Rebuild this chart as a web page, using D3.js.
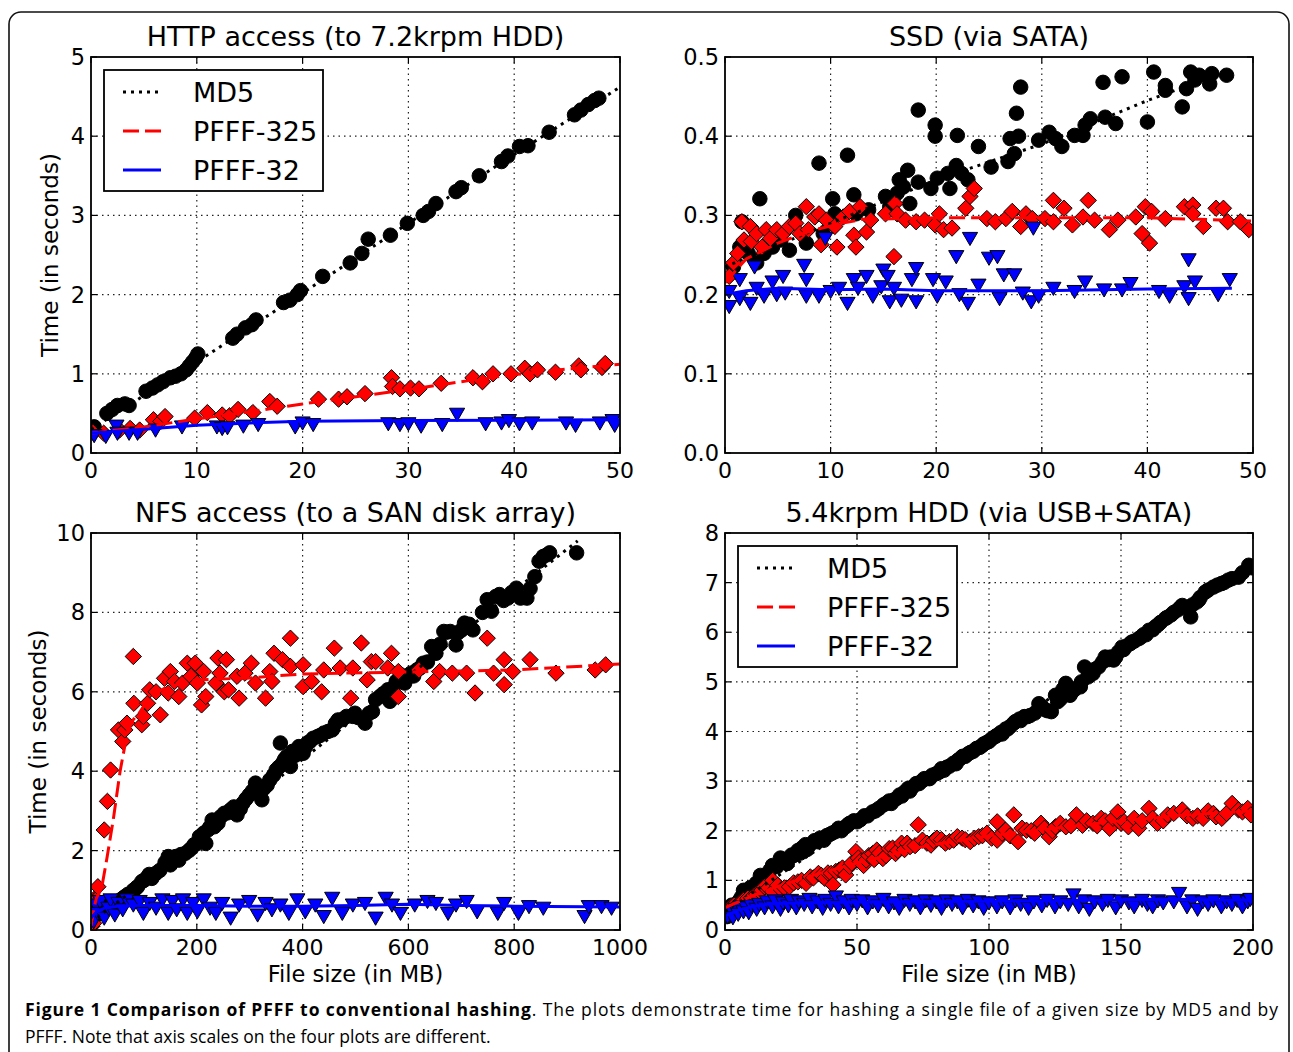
<!DOCTYPE html>
<html>
<head>
<meta charset="utf-8">
<script src="https://cdn.jsdelivr.net/npm/d3@7"></script>
<style>
body { margin: 0; background: #fff; }
svg text { font-family: "DejaVu Sans", "Bitstream Vera Sans", sans-serif; fill: #000; }
</style>
</head>
<body>
<svg width="1293" height="1052"></svg>
<script>
var seriesNames = ["MD5", "PFFF-325", "PFFF-32"];

// HTTP access (to 7.2krpm HDD)
var httpXTicks = [0, 10, 20, 30, 40, 50];
var httpYTicks = [0, 1, 2, 3, 4, 5];
var httpMd5 = [[0.3,0.33],[1.5,0.5],[2.0,0.55],[2.5,0.6],[3.2,0.62],[3.6,0.6],[5.2,0.78],[5.8,0.82],[6.3,0.86],[6.8,0.9],[7.5,0.95],[8.0,0.97],[8.5,1.0],[9.0,1.05],[9.3,1.1],[9.6,1.15],[9.9,1.2],[10.1,1.25],[13.4,1.45],[13.8,1.5],[14.6,1.58],[15.2,1.62],[15.6,1.68],[18.2,1.9],[18.8,1.93],[19.5,2.0],[19.8,2.05],[21.9,2.23],[24.5,2.4],[25.6,2.52],[26.2,2.7],[28.3,2.75],[29.9,2.9],[31.4,3.0],[31.9,3.05],[32.6,3.15],[34.5,3.3],[35.0,3.35],[36.7,3.5],[38.8,3.68],[39.4,3.75],[40.5,3.87],[41.3,3.88],[43.3,4.05],[45.7,4.27],[46.3,4.33],[47.0,4.4],[47.6,4.45],[48.0,4.48]];
var httpPfff325 = [[0.2,0.26],[1.2,0.25],[2.7,0.29],[3.7,0.31],[4.6,0.29],[5.9,0.42],[6.6,0.4],[7.0,0.46],[9.8,0.44],[11.0,0.51],[12.4,0.48],[13.1,0.47],[13.9,0.55],[15.3,0.51],[16.9,0.65],[17.6,0.59],[21.5,0.68],[23.4,0.68],[24.2,0.71],[25.9,0.75],[28.4,0.95],[28.5,0.84],[29.2,0.81],[30.2,0.82],[31.0,0.81],[33.1,0.88],[36.1,0.95],[37.0,0.9],[38.0,1.0],[39.7,1.0],[41.0,1.07],[41.5,1.0],[42.2,1.05],[43.9,1.02],[46.1,1.1],[46.3,1.05],[48.3,1.08],[48.6,1.13]];
var httpPfff32 = [[0.3,0.24],[1.4,0.23],[2.4,0.36],[2.5,0.27],[3.6,0.27],[4.4,0.27],[6.1,0.31],[8.6,0.35],[11.9,0.35],[12.4,0.33],[12.9,0.34],[14.4,0.36],[15.8,0.38],[19.3,0.35],[20.0,0.4],[21.0,0.38],[28.1,0.39],[29.2,0.38],[30.0,0.39],[31.2,0.36],[33.2,0.38],[34.6,0.51],[37.3,0.39],[38.8,0.4],[39.5,0.43],[40.5,0.39],[41.7,0.4],[44.9,0.4],[45.8,0.37],[48.1,0.4],[49.3,0.43],[49.5,0.37]];
var httpMd5Fit = [[0,0.3],[10,1.15],[20,2.02],[30,2.9],[40,3.77],[50,4.62]];
var httpPfff325Fit = [[0,0.25],[5,0.33],[10,0.43],[15,0.52],[20,0.62],[30,0.8],[36,0.92],[40,0.99],[45,1.06],[50,1.12]];
var httpPfff32Fit = [[0,0.25],[5,0.3],[10,0.35],[15,0.38],[20,0.4],[30,0.41],[40,0.415],[50,0.42]];

// SSD (via SATA)
var ssdXTicks = [0, 10, 20, 30, 40, 50];
var ssdYTicks = [0, 0.1, 0.2, 0.3, 0.4, 0.5];
var ssdMd5 = [[0.8,0.235],[1.4,0.26],[1.6,0.292],[2.2,0.252],[3.0,0.24],[3.3,0.321],[3.7,0.252],[4.5,0.26],[5.3,0.269],[6.1,0.256],[6.7,0.3],[7.7,0.265],[8.9,0.366],[9.3,0.277],[10.2,0.321],[10.4,0.302],[11.6,0.376],[12.2,0.326],[12.4,0.302],[13.6,0.307],[15.2,0.324],[15.6,0.311],[16.3,0.328],[16.5,0.345],[16.9,0.336],[17.3,0.357],[17.5,0.315],[18.3,0.433],[18.3,0.342],[19.5,0.334],[19.9,0.4],[19.9,0.414],[20.1,0.347],[21.1,0.353],[21.3,0.334],[21.9,0.363],[22.0,0.401],[22.4,0.353],[23.0,0.345],[24.0,0.387],[25.2,0.361],[26.8,0.368],[27.0,0.397],[27.4,0.378],[27.6,0.429],[27.8,0.4],[28.0,0.462],[29.7,0.395],[30.7,0.405],[31.3,0.397],[31.9,0.387],[33.1,0.401],[33.9,0.401],[34.1,0.414],[34.6,0.422],[35.8,0.468],[36.0,0.424],[37.0,0.416],[37.6,0.475],[40.0,0.418],[40.6,0.481],[41.7,0.464],[41.7,0.458],[43.3,0.437],[43.7,0.46],[44.1,0.481],[44.5,0.471],[44.9,0.477],[45.9,0.466],[46.1,0.479],[47.5,0.477]];
var ssdPfff325 = [[0.4,0.223],[0.8,0.24],[1.2,0.252],[1.6,0.292],[1.8,0.269],[2.4,0.286],[2.5,0.267],[3.0,0.277],[3.5,0.26],[3.9,0.282],[4.3,0.271],[4.9,0.282],[5.5,0.277],[6.1,0.286],[6.7,0.29],[7.1,0.277],[7.7,0.311],[7.9,0.282],[8.5,0.298],[8.9,0.302],[9.1,0.263],[9.6,0.294],[10.4,0.286],[10.6,0.26],[11.2,0.298],[11.8,0.305],[12.2,0.275],[12.4,0.26],[12.8,0.311],[13.4,0.279],[13.8,0.294],[15.2,0.302],[16.0,0.248],[16.1,0.315],[16.3,0.302],[17.1,0.294],[18.1,0.292],[18.9,0.294],[19.9,0.288],[20.3,0.302],[20.7,0.282],[21.5,0.284],[22.8,0.309],[23.2,0.324],[23.6,0.334],[24.8,0.296],[25.6,0.292],[26.6,0.296],[27.2,0.305],[28.0,0.286],[28.5,0.302],[29.1,0.296],[30.3,0.296],[31.1,0.319],[31.1,0.292],[32.1,0.309],[32.9,0.288],[33.9,0.298],[34.4,0.319],[35.0,0.294],[36.4,0.282],[37.2,0.294],[38.9,0.298],[39.5,0.277],[39.8,0.311],[40.2,0.265],[40.4,0.305],[41.7,0.296],[43.5,0.311],[44.3,0.313],[44.3,0.302],[45.3,0.286],[46.5,0.309],[47.2,0.309],[47.6,0.292],[48.8,0.292],[49.6,0.282]];
var ssdPfff32 = [[0.4,0.187],[0.4,0.206],[1.4,0.221],[1.4,0.197],[2.4,0.191],[2.8,0.237],[3.0,0.21],[3.7,0.2],[4.5,0.218],[4.9,0.202],[5.5,0.225],[5.7,0.204],[7.5,0.239],[7.7,0.221],[7.7,0.2],[8.9,0.2],[9.5,0.273],[10.0,0.206],[10.8,0.21],[11.6,0.191],[12.2,0.221],[12.6,0.21],[13.4,0.225],[14.0,0.2],[14.8,0.212],[15.0,0.233],[15.4,0.225],[15.6,0.193],[16.0,0.21],[16.7,0.195],[17.7,0.221],[18.1,0.235],[18.1,0.193],[19.7,0.221],[20.1,0.2],[20.9,0.218],[21.9,0.25],[22.2,0.202],[23.0,0.191],[23.2,0.273],[24.0,0.214],[25.0,0.248],[25.8,0.25],[26.0,0.197],[26.4,0.227],[27.4,0.227],[28.2,0.204],[29.0,0.193],[29.2,0.286],[29.7,0.2],[31.1,0.21],[33.1,0.206],[34.1,0.218],[35.9,0.208],[37.6,0.208],[38.4,0.216],[41.1,0.206],[42.1,0.2],[43.5,0.212],[43.9,0.246],[43.9,0.197],[44.5,0.218],[46.7,0.202],[47.8,0.221]];
var ssdMd5Fit = [[0,0.235],[10,0.29],[20,0.345],[30,0.39],[40,0.445],[47.5,0.482]];
var ssdPfff325Fit = [[0,0.215],[2,0.245],[5,0.265],[8,0.28],[11,0.29],[13,0.295],[20,0.297],[30,0.297],[40,0.297],[45,0.295],[50,0.293]];
var ssdPfff32Fit = [[0,0.2],[2,0.205],[5,0.208],[10,0.206],[15,0.207],[20,0.205],[30,0.205],[40,0.207],[48,0.208]];

// NFS access (to a SAN disk array)
var nfsXTicks = [0, 200, 400, 600, 800, 1000];
var nfsYTicks = [0, 2, 4, 6, 8, 10];
var nfsMd5 = [[3,0.25],[6,0.35],[9,0.5],[12,0.4],[18,0.45],[20,0.5],[25,0.59],[30,0.55],[35,0.6],[41,0.67],[45,0.65],[50,0.7],[55,0.75],[60,0.8],[64,0.84],[70,0.9],[80,1.0],[85,1.05],[88,1.09],[96,1.22],[100,1.25],[107,1.34],[110,1.4],[115,1.3],[123,1.43],[130,1.5],[140,1.7],[146,1.85],[150,1.64],[155,1.75],[160,1.85],[166,1.76],[170,1.9],[178,1.93],[185,2.0],[190,2.06],[195,2.15],[201,2.18],[205,2.35],[210,2.3],[213,2.44],[217,2.18],[221,2.52],[225,2.6],[229,2.77],[233,2.6],[240,2.69],[245,2.85],[252,2.94],[258,2.95],[264,3.03],[270,3.1],[276,2.9],[282,3.05],[287,3.19],[293,3.3],[299,3.4],[305,3.5],[311,3.7],[318,3.45],[323,3.28],[327,3.57],[333,3.65],[338,3.78],[345,3.9],[350,4.03],[355,4.1],[358,4.71],[362,4.2],[366,4.3],[370,4.37],[377,4.12],[381,4.5],[386,4.4],[393,4.62],[397,4.55],[401,4.45],[405,4.6],[409,4.71],[414,4.75],[420,4.83],[428,4.87],[433,4.9],[440,4.96],[448,5.0],[456,5.04],[462,5.2],[467,5.29],[475,5.3],[483,5.38],[495,5.38],[499,5.46],[505,5.35],[518,5.21],[526,5.46],[532,5.5],[538,5.8],[546,5.88],[552,5.95],[561,6.05],[565,5.76],[571,6.1],[577,6.26],[585,6.43],[593,6.22],[598,6.35],[605,6.47],[610,6.4],[616,6.55],[622,6.6],[628,6.72],[636,6.75],[644,7.14],[652,6.97],[660,7.2],[667,7.52],[672,7.5],[679,7.52],[690,7.18],[693,7.48],[700,7.55],[706,7.73],[715,7.7],[722,7.56],[740,8.0],[749,8.32],[757,8.03],[765,8.4],[772,8.45],[780,8.3],[788,8.36],[795,8.5],[804,8.61],[812,8.36],[824,8.36],[830,8.6],[839,8.9],[847,9.29],[855,9.41],[862,9.45],[867,9.5],[918,9.5]];
var nfsPfff325 = [[2,0.1],[5,0.17],[8,0.8],[9,0.76],[13,1.09],[25,2.52],[31,3.24],[37,4.03],[52,5.04],[60,4.75],[64,5.04],[68,5.21],[80,6.89],[81,5.71],[96,5.17],[99,5.38],[107,5.71],[111,6.05],[123,6.0],[131,5.42],[139,6.34],[146,5.97],[150,6.51],[158,6.26],[166,5.88],[173,6.22],[182,6.72],[189,6.39],[197,6.72],[201,6.22],[209,5.67],[213,6.51],[217,5.88],[236,6.22],[240,6.85],[244,6.47],[252,6.0],[256,6.81],[260,6.05],[276,6.39],[280,5.84],[291,6.47],[303,6.72],[311,6.22],[330,5.84],[338,6.51],[342,6.26],[346,6.97],[362,6.81],[377,7.35],[377,6.64],[401,6.68],[401,6.13],[417,6.26],[436,6.0],[440,6.55],[460,7.1],[471,6.6],[491,5.84],[495,6.6],[511,7.23],[522,6.3],[530,6.76],[538,6.76],[561,6.6],[568,6.97],[581,5.88],[581,6.51],[620,6.55],[648,6.26],[659,6.51],[683,6.47],[710,6.47],[726,5.97],[749,7.35],[761,6.47],[781,6.81],[781,6.18],[797,6.51],[830,6.81],[879,6.47],[953,6.55],[973,6.68]];
var nfsPfff32 = [[5,0.25],[9,0.67],[13,0.46],[17,0.76],[25,0.34],[33,0.59],[37,0.8],[45,0.42],[52,0.71],[60,0.55],[68,0.8],[80,0.67],[92,0.76],[99,0.46],[111,0.71],[123,0.59],[135,0.8],[146,0.46],[154,0.76],[162,0.55],[174,0.8],[182,0.46],[193,0.71],[201,0.5],[213,0.8],[225,0.59],[236,0.46],[248,0.71],[264,0.34],[280,0.67],[299,0.76],[315,0.42],[330,0.71],[342,0.55],[358,0.67],[374,0.46],[390,0.8],[405,0.5],[424,0.67],[440,0.38],[456,0.84],[475,0.46],[495,0.67],[518,0.71],[538,0.34],[557,0.84],[569,0.67],[585,0.46],[612,0.67],[636,0.76],[652,0.71],[675,0.46],[690,0.67],[710,0.76],[730,0.5],[769,0.46],[781,0.71],[808,0.46],[828,0.63],[855,0.59],[933,0.38],[941,0.63],[965,0.63],[984,0.59]];
var nfsMd5Fit = [[0,0.2],[100,1.2],[200,2.2],[300,3.25],[400,4.3],[500,5.35],[600,6.4],[700,7.45],[800,8.55],[920,9.8]];
var nfsPfff325Fit = [[0,0.1],[5,0.5],[10,0.8],[20,1.05],[30,1.8],[42,2.77],[55,4.0],[69,5.0],[80,5.3],[93,5.5],[110,5.85],[140,6.1],[200,6.3],[300,6.35],[400,6.45],[600,6.5],[800,6.55],[1000,6.7]];
var nfsPfff32Fit = [[0,0.3],[10,0.45],[25,0.55],[50,0.6],[100,0.62],[200,0.62],[300,0.6],[400,0.6],[500,0.62],[600,0.65],[700,0.62],[800,0.6],[1000,0.58]];

// 5.4krpm HDD (via USB+SATA)
var usbXTicks = [0, 50, 100, 150, 200];
var usbYTicks = [0, 1, 2, 3, 4, 5, 6, 7, 8];
var usbMd5 = [[0.8,0.27],[1.5,0.4],[2.5,0.5],[3.1,0.45],[4.7,0.54],[5.5,0.6],[6.3,0.67],[7,0.8],[8.7,0.74],[9.5,0.85],[10.2,0.84],[11.8,0.94],[12.5,0.95],[13.4,1.1],[14.2,1.0],[15,1.04],[16.5,1.14],[17,1.2],[18,1.3],[19.7,1.28],[20.5,1.35],[21,1.45],[22.5,1.42],[23.6,1.34],[25.2,1.51],[26,1.5],[27.6,1.6],[28.5,1.55],[29.1,1.65],[30.5,1.72],[31,1.62],[32,1.71],[33.9,1.8],[35,1.78],[36,1.85],[37.5,1.81],[38.5,1.9],[39.4,1.92],[40.5,1.95],[41.7,1.98],[43,2.05],[44.1,2.0],[45.7,2.08],[46.5,2.12],[47.2,2.15],[48.8,2.2],[50,2.18],[51.2,2.22],[52.8,2.3],[54,2.3],[55.9,2.38],[57,2.4],[58.3,2.45],[60,2.52],[61,2.55],[62.2,2.6],[63,2.55],[64,2.62],[65,2.65],[66.1,2.72],[67,2.7],[68,2.78],[69.3,2.85],[70,2.8],[71,2.88],[72.4,2.95],[73.5,2.95],[74.5,3.0],[75.5,3.05],[76.4,3.05],[77.5,3.05],[78.5,3.12],[80,3.15],[81.1,3.18],[82,3.25],[83,3.22],[84,3.28],[85,3.3],[86.5,3.36],[87.5,3.35],[88.2,3.42],[89,3.45],[90,3.5],[91,3.5],[92.1,3.55],[93,3.58],[94,3.6],[95.3,3.66],[96.5,3.68],[97.5,3.72],[98,3.75],[99.2,3.78],[100,3.8],[101,3.85],[102.4,3.9],[103,3.92],[104.5,3.98],[105,3.95],[106.3,4.05],[107,4.05],[108,4.1],[109.4,4.17],[110,4.2],[111.5,4.25],[112,4.22],[113.4,4.3],[114.5,4.3],[115.5,4.32],[117.3,4.37],[118.9,4.56],[120,4.5],[121,4.45],[122,4.42],[123.6,4.4],[125.2,4.73],[126,4.6],[127,4.65],[128,4.85],[129.1,4.97],[130.7,4.73],[131.5,4.8],[132.5,4.85],[134.6,4.9],[135,5.0],[136.2,5.3],[137.5,5.1],[138,5.15],[139.4,5.17],[140,5.25],[141.5,5.3],[143,5.4],[144,5.5],[145.5,5.45],[146,5.5],[147.2,5.44],[148,5.5],[149,5.6],[150.4,5.7],[151,5.65],[152,5.72],[153.5,5.77],[154,5.8],[155,5.82],[156.7,5.87],[157.5,5.9],[158.5,5.95],[159.5,5.95],[160.6,6.04],[162,6.05],[163,6.11],[164,6.15],[165,6.2],[166.9,6.28],[167.5,6.3],[169,6.35],[170,6.4],[171.5,6.45],[172.5,6.5],[173.2,6.54],[176.4,6.31],[177,6.55],[178.7,6.61],[179.5,6.65],[180,6.7],[181.9,6.81],[183,6.85],[185,6.91],[186.5,6.95],[188,6.98],[189,7.0],[190.6,7.05],[192,7.08],[194.5,7.11],[196,7.2],[198.4,7.35],[199.5,7.3]];
var usbPfff325 = [[1.6,0.44],[2.5,0.48],[3.5,0.5],[4.5,0.5],[5.5,0.54],[7,0.6],[8.7,0.64],[10,0.65],[11,0.7],[12,0.72],[13,0.78],[14,0.8],[15,0.87],[16.5,0.85],[18.1,1.0],[18.1,0.77],[20,0.9],[21.3,0.81],[22.5,0.85],[24.4,0.87],[26,0.95],[27.6,0.97],[29,1.0],[30.7,0.94],[32.3,1.07],[33.5,1.05],[35.4,1.14],[36.5,1.1],[37.8,1.04],[39,1.15],[40.2,1.14],[40.9,0.91],[42,1.18],[43.3,1.21],[44.5,1.25],[45.7,1.11],[47.2,1.28],[48,1.35],[49.6,1.58],[50.5,1.45],[51.2,1.38],[52.5,1.3],[53.5,1.41],[54.5,1.5],[55.9,1.54],[56.5,1.42],[57.5,1.61],[58.5,1.55],[59.8,1.44],[61,1.5],[62.2,1.64],[63.5,1.65],[64.6,1.54],[65.5,1.6],[66.9,1.75],[68,1.62],[69,1.75],[70.1,1.68],[72,1.7],[73.2,2.12],[74.8,1.81],[76.5,1.75],[78,1.71],[79,1.8],[80.3,1.85],[82,1.82],[83.5,1.75],[85,1.78],[86.6,1.81],[88,1.88],[89.8,1.85],[91,1.82],[92.9,1.78],[94.5,1.85],[96.1,1.88],[97.5,1.9],[99.2,1.95],[101,1.85],[103.1,1.81],[103.1,2.18],[105,1.95],[106.3,2.01],[108,1.9],[109.4,2.32],[111,1.78],[112.5,2.05],[114.2,2.01],[116,2.0],[117.3,1.95],[119.7,2.15],[121,2.05],[122.8,1.88],[124,2.0],[125.2,2.08],[127,2.15],[129.1,2.08],[131,2.1],[133.1,2.32],[135.4,2.11],[137,2.2],[139.4,2.15],[141,2.1],[142.5,2.25],[144,2.2],[145.7,2.05],[147,2.25],[148.8,2.38],[150,2.15],[151.2,2.18],[152.8,2.08],[155,2.25],[156.7,2.05],[158,2.2],[160.6,2.45],[162,2.25],[163.8,2.15],[166,2.2],[167.7,2.32],[170,2.35],[173.2,2.42],[175,2.3],[177.2,2.25],[179,2.3],[181.1,2.25],[183,2.4],[185,2.35],[186,2.28],[188.2,2.25],[190,2.35],[192.1,2.55],[194.5,2.42],[196,2.38],[198,2.45],[199.2,2.32]];
var usbPfff32 = [[1,0.3],[2,0.38],[3,0.28],[4,0.45],[5,0.35],[6,0.5],[7,0.4],[8,0.48],[9,0.38],[10,0.52],[12,0.45],[13,0.55],[15,0.48],[16,0.6],[18,0.5],[19,0.62],[21,0.45],[22,0.58],[24,0.52],[25,0.63],[27,0.48],[28,0.6],[30,0.55],[32,0.65],[33,0.5],[35,0.6],[37,0.47],[38,0.63],[40,0.55],[42,0.7],[43,0.5],[45,0.6],[47,0.48],[48,0.63],[50,0.55],[52,0.62],[54,0.48],[56,0.6],[58,0.52],[60,0.65],[62,0.5],[64,0.58],[66,0.47],[68,0.63],[70,0.55],[72,0.6],[74,0.48],[76,0.62],[78,0.53],[80,0.6],[82,0.47],[84,0.62],[86,0.55],[88,0.6],[90,0.48],[92,0.63],[94,0.52],[96,0.6],[98,0.47],[100,0.58],[103,0.5],[105,0.6],[108,0.48],[110,0.62],[112,0.55],[115,0.47],[117,0.6],[120,0.52],[122,0.63],[125,0.5],[127,0.6],[130,0.55],[132,0.74],[134,0.5],[136,0.62],[138,0.45],[140,0.6],[143,0.55],[145,0.63],[148,0.48],[150,0.62],[153,0.58],[155,0.5],[158,0.63],[160,0.55],[162,0.5],[164,0.62],[166,0.58],[170,0.6],[172,0.77],[175,0.5],[177,0.62],[179,0.45],[181,0.6],[183,0.55],[185,0.62],[188,0.5],[190,0.6],[192,0.55],[194,0.63],[196,0.5],[198,0.6],[199,0.65]];
var usbMd5Fit = [[0,0.38],[50,2.15],[100,3.87],[150,5.6],[200,7.35]];
var usbPfff325Fit = [[0,0.45],[10,0.68],[20,0.88],[30,1.05],[50,1.35],[75,1.68],[100,1.9],[125,2.05],[150,2.2],[175,2.32],[200,2.4]];
var usbPfff32Fit = [[0,0.28],[5,0.4],[10,0.47],[17,0.53],[30,0.55],[60,0.57],[100,0.58],[130,0.6],[170,0.62],[200,0.6]];

var captionBold = "Figure 1 Comparison of PFFF to conventional hashing";
var captionRest = ". The plots demonstrate time for hashing a single file of a given size by MD5 and by";
var captionLine2 = "PFFF. Note that axis scales on the four plots are different.";

var svg = d3.select("svg");

// outer frame of the figure
svg.append("rect")
  .attr("x", 9).attr("y", 12)
  .attr("width", 1280).attr("height", 1070)
  .attr("rx", 12)
  .attr("fill", "none")
  .attr("stroke", "#111")
  .attr("stroke-width", 1.6);

var panels = [
  { title: "HTTP access (to 7.2krpm HDD)", left: 91, top: 57, right: 620, bottom: 453,
    xTicks: httpXTicks, yTicks: httpYTicks, yFmt: d3.format("d"),
    data: [httpMd5, httpPfff325, httpPfff32], fits: [httpMd5Fit, httpPfff325Fit, httpPfff32Fit],
    legend: true, yLabelX: 58, xLabel: false },
  { title: "SSD (via SATA)", left: 725, top: 57, right: 1253, bottom: 453,
    xTicks: ssdXTicks, yTicks: ssdYTicks, yFmt: d3.format(".1f"),
    data: [ssdMd5, ssdPfff325, ssdPfff32], fits: [ssdMd5Fit, ssdPfff325Fit, ssdPfff32Fit],
    legend: false, yLabelX: null, xLabel: false },
  { title: "NFS access (to a SAN disk array)", left: 91, top: 533, right: 620, bottom: 930,
    xTicks: nfsXTicks, yTicks: nfsYTicks, yFmt: d3.format("d"),
    data: [nfsMd5, nfsPfff325, nfsPfff32], fits: [nfsMd5Fit, nfsPfff325Fit, nfsPfff32Fit],
    legend: false, yLabelX: 46, xLabel: true },
  { title: "5.4krpm HDD (via USB+SATA)", left: 725, top: 533, right: 1253, bottom: 930,
    xTicks: usbXTicks, yTicks: usbYTicks, yFmt: d3.format("d"),
    data: [usbMd5, usbPfff325, usbPfff32], fits: [usbMd5Fit, usbPfff325Fit, usbPfff32Fit],
    legend: true, yLabelX: null, xLabel: true }
];

var colors = ["#000000", "#ff0000", "#0000ff"];
var dashes = ["3,5", "16,6", null];

var markers = [
  d3.symbol().type(d3.symbolCircle).size(165),
  d3.symbol().type(d3.symbolDiamond2).size(170),
  d3.symbol().type(d3.symbolTriangle).size(100)
];

panels.forEach(function(p, i) {
  var x = d3.scaleLinear()
    .domain([p.xTicks[0], p.xTicks[p.xTicks.length - 1]])
    .range([p.left, p.right]);
  var y = d3.scaleLinear()
    .domain([p.yTicks[0], p.yTicks[p.yTicks.length - 1]])
    .range([p.bottom, p.top]);

  var g = svg.append("g");

  svg.append("clipPath").attr("id", "clip" + i)
    .append("rect")
    .attr("x", p.left).attr("y", p.top)
    .attr("width", p.right - p.left).attr("height", p.bottom - p.top);

  // dotted grid
  g.selectAll(".gx").data(p.xTicks.slice(1, -1)).enter()
    .append("line")
    .attr("x1", function(d) { return x(d); }).attr("x2", function(d) { return x(d); })
    .attr("y1", p.top).attr("y2", p.bottom)
    .attr("stroke", "#222").attr("stroke-width", 1.2).attr("stroke-dasharray", "1.5,4");
  g.selectAll(".gy").data(p.yTicks.slice(1, -1)).enter()
    .append("line")
    .attr("y1", function(d) { return y(d); }).attr("y2", function(d) { return y(d); })
    .attr("x1", p.left).attr("x2", p.right)
    .attr("stroke", "#222").attr("stroke-width", 1.2).attr("stroke-dasharray", "1.5,4");

  var plot = g.append("g").attr("clip-path", "url(#clip" + i + ")");

  // scatter markers
  p.data.forEach(function(series, s) {
    plot.selectAll(".m" + s).data(series).enter()
      .append("path")
      .attr("d", markers[s])
      .attr("transform", function(d) {
        return "translate(" + x(d[0]) + "," + y(d[1]) + ")" + (s == 2 ? " rotate(180)" : "");
      })
      .attr("fill", colors[s])
      .attr("stroke", "#000")
      .attr("stroke-width", 1);
  });

  // fitted lines on top
  var line = d3.line()
    .x(function(d) { return x(d[0]); })
    .y(function(d) { return y(d[1]); });
  p.fits.forEach(function(fit, s) {
    plot.append("path")
      .attr("d", line(fit))
      .attr("fill", "none")
      .attr("stroke", colors[s])
      .attr("stroke-width", 3)
      .attr("stroke-dasharray", dashes[s]);
  });

  // frame
  g.append("rect")
    .attr("x", p.left).attr("y", p.top)
    .attr("width", p.right - p.left).attr("height", p.bottom - p.top)
    .attr("fill", "none").attr("stroke", "#000").attr("stroke-width", 1.8);

  // inward ticks on all four sides
  p.xTicks.forEach(function(t) {
    g.append("line").attr("x1", x(t)).attr("x2", x(t)).attr("y1", p.bottom).attr("y2", p.bottom - 6)
      .attr("stroke", "#000").attr("stroke-width", 1.2);
    g.append("line").attr("x1", x(t)).attr("x2", x(t)).attr("y1", p.top).attr("y2", p.top + 6)
      .attr("stroke", "#000").attr("stroke-width", 1.2);
  });
  p.yTicks.forEach(function(t) {
    g.append("line").attr("y1", y(t)).attr("y2", y(t)).attr("x1", p.left).attr("x2", p.left + 6)
      .attr("stroke", "#000").attr("stroke-width", 1.2);
    g.append("line").attr("y1", y(t)).attr("y2", y(t)).attr("x1", p.right).attr("x2", p.right - 6)
      .attr("stroke", "#000").attr("stroke-width", 1.2);
  });

  // tick labels
  g.selectAll(".xl").data(p.xTicks).enter()
    .append("text")
    .attr("x", function(d) { return x(d); })
    .attr("y", p.bottom + 25)
    .attr("text-anchor", "middle")
    .attr("font-size", 22)
    .text(function(d) { return d; });
  g.selectAll(".yl").data(p.yTicks).enter()
    .append("text")
    .attr("x", p.left - 6)
    .attr("y", function(d) { return y(d) + 8; })
    .attr("text-anchor", "end")
    .attr("font-size", 22.5)
    .text(function(d) { return p.yFmt(d); });

  // title
  g.append("text")
    .attr("x", (p.left + p.right) / 2)
    .attr("y", p.top - 11)
    .attr("text-anchor", "middle")
    .attr("font-size", 27)
    .text(p.title);

  if (p.yLabelX) {
    g.append("text")
      .attr("transform", "translate(" + p.yLabelX + "," + ((p.top + p.bottom) / 2) + ") rotate(-90)")
      .attr("text-anchor", "middle")
      .attr("font-size", 23)
      .text("Time (in seconds)");
  }
  if (p.xLabel) {
    g.append("text")
      .attr("x", (p.left + p.right) / 2)
      .attr("y", p.bottom + 52)
      .attr("text-anchor", "middle")
      .attr("font-size", 22.5)
      .text("File size (in MB)");
  }

  if (p.legend) {
    var lx = p.left + 13, ly = p.top + 13;
    var lg = g.append("g");
    lg.append("rect")
      .attr("x", lx).attr("y", ly).attr("width", 219).attr("height", 121)
      .attr("fill", "#fff").attr("stroke", "#000").attr("stroke-width", 1.8);
    seriesNames.forEach(function(name, s) {
      var ey = ly + 22 + s * 39;
      lg.append("line")
        .attr("x1", lx + 19).attr("x2", lx + 57)
        .attr("y1", ey).attr("y2", ey)
        .attr("stroke", colors[s]).attr("stroke-width", 3)
        .attr("stroke-dasharray", dashes[s]);
      lg.append("text")
        .attr("x", lx + 89).attr("y", ey + 9.5)
        .attr("font-size", 27)
        .text(name);
    });
  }
});

// caption
var cap = svg.append("text")
  .attr("x", 25).attr("y", 1016)
  .attr("textLength", 1253)
  .attr("lengthAdjust", "spacing")
  .style("font-family", "'Open Sans', sans-serif")
  .attr("font-size", 17.5);
cap.append("tspan").attr("font-weight", "bold").text(captionBold);
cap.append("tspan").text(captionRest);

svg.append("text")
  .attr("x", 25).attr("y", 1043)
  .style("font-family", "'Open Sans', sans-serif")
  .attr("font-size", 17.5)
  .text(captionLine2);
</script>
</body>
</html>
